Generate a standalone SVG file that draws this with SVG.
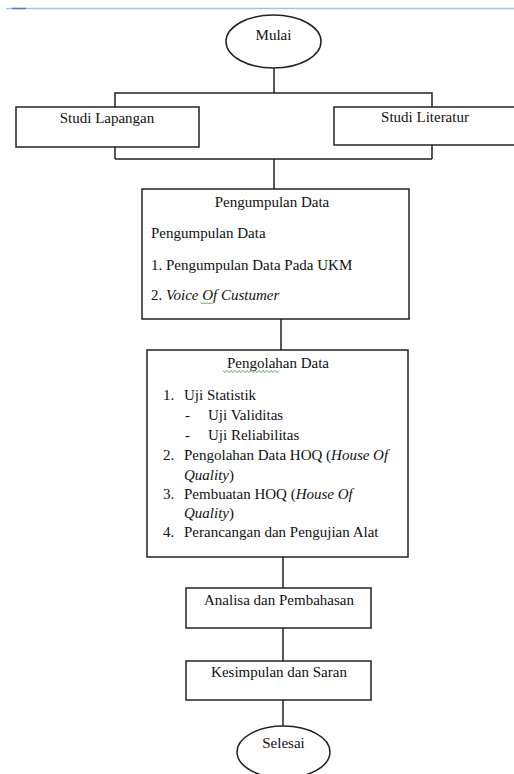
<svg xmlns="http://www.w3.org/2000/svg" width="514" height="774" viewBox="0 0 514 774" font-family="'Liberation Serif', 'DejaVu Serif', serif" font-size="15">
<style>
.box{fill:#fff;stroke:#222;stroke-width:1.5}
.ln{fill:none;stroke:#222;stroke-width:1.5}
text{font-family:'Liberation Serif','DejaVu Serif',serif;font-size:15px;fill:#111}
.c{text-anchor:middle}
.i{font-style:italic}
.sq{fill:none;stroke:#3a9a3a;stroke-width:0.9}
</style>
<rect x="0" y="0" width="514" height="774" fill="#fff"/>
<line x1="6" y1="8.5" x2="514" y2="8.5" stroke="#a7c1e6" stroke-width="1.5"/>
<line x1="12" y1="8.5" x2="26" y2="8.5" stroke="#5d7eae" stroke-width="1.5"/>
<g id="connectors">
<path class="ln" d="M274 68 V93 M115 107 V93 H432 V107"/>
<path class="ln" d="M115 147 V159 M432 145 V159 M115 159 H432 M274 159 V189"/>
<path class="ln" d="M281 319 V350"/>
<path class="ln" d="M283 557 V588"/>
<path class="ln" d="M283 628 V661"/>
<path class="ln" d="M283 700 V726"/>
</g>
<g id="mulai">
<ellipse class="box" cx="273.5" cy="41.5" rx="47.5" ry="26.5"/>
<text class="c" x="273.5" y="40">Mulai</text>
</g>
<g id="studi-lapangan">
<rect class="box" x="16" y="107" width="183" height="40"/>
<text class="c" x="107" y="123">Studi Lapangan</text>
</g>
<g id="studi-literatur">
<rect class="box" x="334" y="107" width="190" height="38"/>
<text class="c" x="425" y="122">Studi Literatur</text>
</g>
<g id="pengumpulan-data">
<rect class="box" x="142" y="189" width="267" height="130"/>
<text class="c" x="272" y="207">Pengumpulan Data</text>
<text x="151" y="238">Pengumpulan Data</text>
<text x="151" y="270">1. Pengumpulan Data Pada UKM</text>
<text x="151" y="300">2. <tspan class="i">Voice Of Custumer</tspan></text>
<path class="sq" d="M201 302.5 l1.5 1.5 l1.5 -1.5 l1.5 1.5 l1.5 -1.5 l1.5 1.5 l1.5 -1.5 l1.5 1.5 l1.5 -1.5"/>
</g>
<g id="pengolahan-data">
<rect class="box" x="147" y="350" width="261" height="207"/>
<text class="c" x="278" y="368">Pengolahan  Data</text>
<path class="sq" d="M223 370.5 l2 2 l2 -2 l2 2 l2 -2 l2 2 l2 -2 l2 2 l2 -2 l2 2 l2 -2 l2 2 l2 -2 l2 2 l2 -2 l2 2 l2 -2 l2 2 l2 -2 l2 2 l2 -2 l2 2 l2 -2 l2 2 l2 -2 l2 2 l2 -2 l2 2 l2 -2"/>
<text x="163" y="400">1.</text><text x="184" y="400">Uji Statistik</text>
<text x="185" y="420">-</text><text x="208" y="420">Uji Validitas</text>
<text x="185" y="440">-</text><text x="208" y="440">Uji Reliabilitas</text>
<text x="163" y="460">2.</text><text x="184" y="460">Pengolahan Data HOQ  (<tspan class="i">House Of</tspan></text>
<text x="184" y="480"><tspan class="i">Quality</tspan>)</text>
<text x="163" y="499">3.</text><text x="184" y="499">Pembuatan HOQ (<tspan class="i">House Of</tspan></text>
<text x="184" y="518"><tspan class="i">Quality</tspan>)</text>
<text x="163" y="537">4.</text><text x="184" y="537">Perancangan dan Pengujian Alat</text>
</g>
<g id="analisa">
<rect class="box" x="186" y="588" width="185" height="40"/>
<text class="c" x="279" y="605">Analisa dan Pembahasan</text>
</g>
<g id="kesimpulan">
<rect class="box" x="186" y="661" width="185" height="39"/>
<text class="c" x="279" y="677">Kesimpulan dan Saran</text>
</g>
<g id="selesai">
<ellipse class="box" cx="283.5" cy="752" rx="46.5" ry="26"/>
<text class="c" x="283.5" y="748">Selesai</text>
</g>
</svg>
